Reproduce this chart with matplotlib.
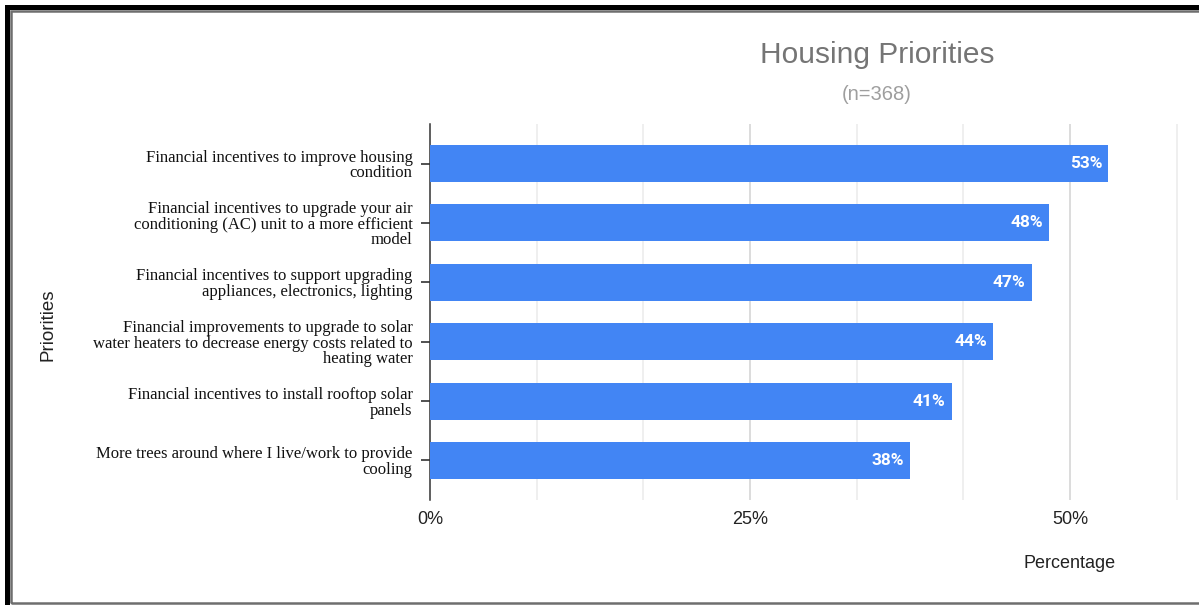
import matplotlib
matplotlib.use("Agg")
import matplotlib.pyplot as plt
from matplotlib.patches import Rectangle
import numpy as np


categories = [
    "Financial incentives to improve housing\ncondition",
    "Financial incentives to upgrade your air\nconditioning (AC) unit to a more efficient\nmodel",
    "Financial incentives to support upgrading\nappliances, electronics, lighting",
    "Financial improvements to upgrade to solar\nwater heaters to decrease energy costs related to\nheating water",
    "Financial incentives to install rooftop solar\npanels",
    "More trees around where I live/work to provide\ncooling",
]
counts = [195, 178, 173, 162, 150, 138]
n_total = 368
x_ticks = [0, 25, 50]
x_tick_labels = ["0%", "25%", "50%"]

percent = [100 * c / n_total for c in counts]

W, H = 1199, 605
fig = plt.figure(figsize=(W / 100, H / 100), dpi=100)
ax = fig.add_axes([430 / W, 1 - 500 / H, 750 / W, 376 / H])

y = np.arange(len(categories))
ax.barh(y, percent, height=0.62, color="#4285f4", zorder=3)

for yi, p in zip(y, percent):
    ax.text(p - 0.47, yi, f"{p:.0f}%", ha="right", va="center",
            color="white", fontsize=12.5, fontweight="bold", family="Roboto", zorder=4)

ax.set_ylim(len(categories) - 1 + 0.665, -0.665)
ax.set_xlim(0, 58.6)

# light gridlines every 25/3 %
for g in np.arange(1, 8) * 25 / 3:
    ax.axvline(g, color="#ececec" if round(g) % 25 else "#d6d6d6", lw=1.2, zorder=1)

ax.set_xticks(x_ticks)
ax.set_xticklabels(x_tick_labels, family="Liberation Sans", fontsize=13, color="#222222")
ax.tick_params(axis="x", length=0, pad=8)

ax.set_yticks(y)
ax.set_yticklabels(categories, family="Liberation Serif", fontsize=12,
                   color="#111111", linespacing=0.97)
ax.tick_params(axis="y", direction="inout", length=13, width=1.1, color="#222222", pad=6)

for s in ["top", "right", "bottom"]:
    ax.spines[s].set_visible(False)
ax.spines["left"].set_color("#333333")
ax.spines["left"].set_linewidth(1.1)

fig.text(877 / W, 1 - 55 / H, "Housing Priorities", ha="center", va="center",
         family="Liberation Sans", fontsize=21.5, color="#757575")
fig.text(877 / W, 1 - 95 / H, "(n=368)", ha="center", va="center",
         family="Liberation Sans", fontsize=14.5, color="#9e9e9e")
fig.text(1070 / W, 1 - 563 / H, "Percentage", ha="center", va="center",
         family="Liberation Sans", fontsize=13, color="#222222")
fig.text(48 / W, 1 - 325 / H, "Priorities", ha="center", va="center", rotation=90,
         family="Liberation Sans", fontsize=13.5, color="#222222")

# frame around the picture
fig.add_artist(Rectangle((5 / W, 0), 5 / W, 1 - 5 / H, transform=fig.transFigure,
                         color="black", lw=0))
fig.add_artist(Rectangle((5 / W, 1 - 10 / H), 1, 5 / H, transform=fig.transFigure,
                         color="black", lw=0))
fig.add_artist(Rectangle((11 / W, 2 / H), 1, 1 - 13 / H, transform=fig.transFigure,
                         fill=False, edgecolor="#6e6e6e", lw=1.8))

fig.savefig("out.png", dpi=100)
